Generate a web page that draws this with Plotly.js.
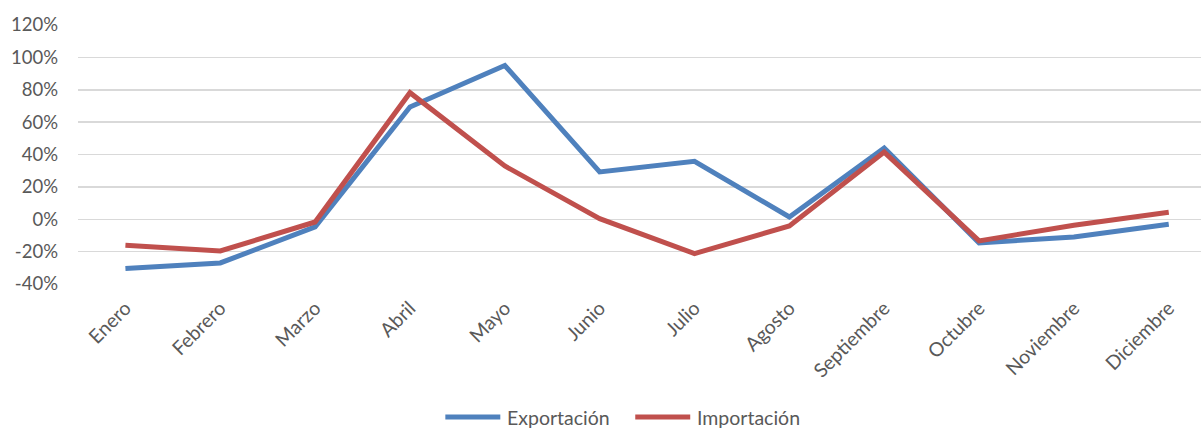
<!DOCTYPE html>
<html>
<head>
<meta charset="utf-8">
<script src="https://cdn.plot.ly/plotly-3.0.1.min.js"></script>
<style>html,body{margin:0;padding:0;background:#fff;}#chart{width:1201px;height:432px;}</style>
</head>
<body>
<div id="chart"></div>
<script>
const months = ["Enero","Febrero","Marzo","Abril","Mayo","Junio","Julio","Agosto","Septiembre","Octubre","Noviembre","Diciembre"];
const exportacion = [-30.5, -27, -4.7, 69.3, 95, 29.2, 35.8, 1.4, 44, -14.6, -10.9, -3.1];
const importacion = [-16, -19.6, -1.7, 78.2, 32.9, 0.4, -21.2, -4.1, 41.5, -13.4, -3.7, 4.3];
const yTicks = [-40, -20, 0, 20, 40, 60, 80, 100, 120];
const seriesNames = ["Exportación", "Importación"];
const seriesColors = ["#4F81BD", "#C0504D"];

const font = "Lato, 'Open Sans', sans-serif";
const W = 1201, H = 432, L = 77.5, T = 25, B = 148;
const plotW = W - L, plotH = H - T - B;
const px = x => (x - L) / plotW;
const py = y => (H - B - y) / plotH;

const traces = [exportacion, importacion].map((vals, k) => ({
  x: months.map((m,i)=>i), y: vals, name: seriesNames[k], type: "scatter", mode: "lines",
  line: {color: seriesColors[k], width: 5}, showlegend: false
}));

// manual legend (Excel-style long line keys)
const legendY = 417;
const legendKeys = [{x0: 445, x1: 500, tx: 505}, {x0: 635, x1: 690, tx: 695}];
const shapes = legendKeys.map((k, i) => ({
  type: "line", xref: "x domain", yref: "y domain",
  x0: px(k.x0), x1: px(k.x1), y0: py(legendY), y1: py(legendY),
  line: {color: seriesColors[i], width: 5}
}));
const annotations = legendKeys.map((k, i) => ({
  xref: "x domain", yref: "y domain", x: px(k.tx), y: py(legendY),
  xanchor: "left", yanchor: "middle", showarrow: false, text: seriesNames[i],
  font: {size: 19.5, color: "#595959", family: font}
}));

const layout = {
  width: W, height: H,
  margin: {l: L, r: 0, t: T, b: B, autoexpand: false},
  paper_bgcolor: "#fff", plot_bgcolor: "#fff",
  font: {family: font, color: "#595959", size: 18},
  showlegend: false,
  shapes: shapes, annotations: annotations,
  xaxis: {range: [-0.5, 11.34], tickmode: "array", tickvals: months.map((m,i)=>i), ticktext: months,
          tickangle: -45, showgrid: false, zeroline: false, showline: false, ticks: "",
          ticklabelstandoff: 8,
          tickfont: {size: 19.5, color: "#595959"}},
  yaxis: {range: [-40, 120], tickmode: "array", tickvals: yTicks, ticktext: yTicks.map(v=>v+"%"),
          showgrid: true, gridcolor: "#d9d9d9", gridwidth: 1.5, zeroline: false, showline: false, ticks: "",
          ticklabelstandoff: 19,
          tickfont: {size: 18.5, color: "#595959"}}
};
Plotly.newPlot("chart", traces, layout, {displayModeBar: false, staticPlot: true});
</script>
</body>
</html>
